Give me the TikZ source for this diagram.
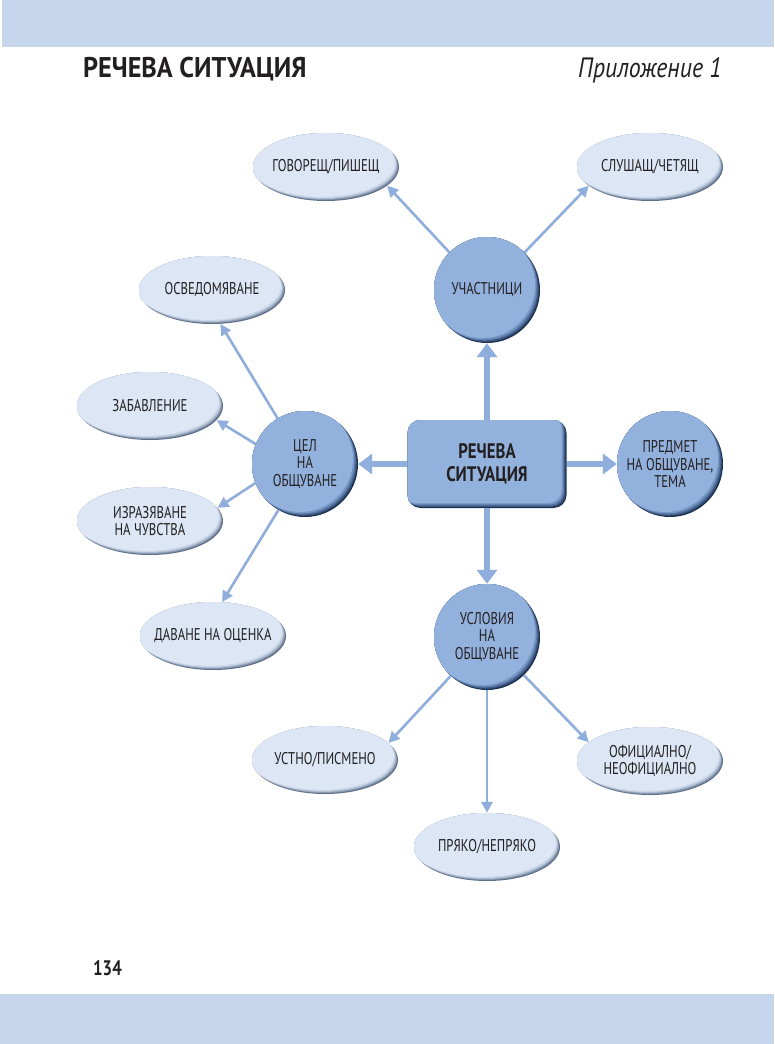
\documentclass[tikz,border=0pt]{standalone}
\usepackage{fontspec}
\newfontfamily\nf[FakeStretch=0.75]{PT Sans}
\newfontfamily\bxf[FakeStretch=0.8]{PT Sans}
\newfontfamily\hdf[FakeStretch=0.92]{PT Sans}
\newfontfamily\itf[FakeStretch=0.85]{PT Sans}
\usetikzlibrary{calc,arrows.meta,shapes.geometric}
\definecolor{band}{HTML}{C6D6EC}
\definecolor{ink}{HTML}{231F20}
\definecolor{arr}{HTML}{8FAEDC}
\definecolor{cmain}{HTML}{93B1DD}
\definecolor{cd0}{HTML}{1E3250}
\definecolor{cd1}{HTML}{3A5680}
\definecolor{cd2}{HTML}{5A78A5}
\definecolor{cd3}{HTML}{7896C4}
\definecolor{emain}{HTML}{DCE6F4}
\definecolor{ed0}{HTML}{5F6F88}
\definecolor{ed1}{HTML}{8898B0}
\definecolor{ed2}{HTML}{AEBCD0}
\definecolor{ed3}{HTML}{CBD7E8}
\tikzset{
  txt/.style={text=ink, align=center, font=\nf\fontsize{17}{17.5}\selectfont},
  circ/.style={circle, minimum size=106pt, inner sep=0pt, fill=cd0, txt,
    path picture={
      \fill[cd1] ($(path picture bounding box.center)+(-1.2pt,1.2pt)$) circle (53pt);
      \fill[cd2] ($(path picture bounding box.center)+(-2.4pt,2.4pt)$) circle (53pt);
      \fill[cd3] ($(path picture bounding box.center)+(-3.6pt,3.6pt)$) circle (53pt);
      \fill[cmain] ($(path picture bounding box.center)+(-5pt,5pt)$) circle (53pt);
    }},
  ell/.style={ellipse, minimum width=146pt, minimum height=68pt, inner xsep=-20pt, inner ysep=0pt, fill=ed0, txt,
    path picture={
      \fill[ed1] ($(path picture bounding box.center)+(-1pt,1pt)$) ellipse [x radius=73pt, y radius=34pt];
      \fill[ed2] ($(path picture bounding box.center)+(-2pt,2pt)$) ellipse [x radius=73pt, y radius=34pt];
      \fill[ed3] ($(path picture bounding box.center)+(-3pt,3pt)$) ellipse [x radius=73pt, y radius=34pt];
      \fill[emain] ($(path picture bounding box.center)+(-4.2pt,4.2pt)$) ellipse [x radius=73pt, y radius=34pt];
    }},
  rbox/.style={rectangle, rounded corners=13pt, minimum width=159pt, minimum height=88pt, inner sep=0pt, fill=cd0,
    text=ink, align=center, font=\bxf\bfseries\fontsize{21}{23}\selectfont,
    path picture={
      \fill[cd1, rounded corners=13pt] ($(path picture bounding box.south west)+(-1.2pt,1.2pt)$) rectangle ($(path picture bounding box.north east)+(-1.2pt,1.2pt)$);
      \fill[cd2, rounded corners=13pt] ($(path picture bounding box.south west)+(-2.4pt,2.4pt)$) rectangle ($(path picture bounding box.north east)+(-2.4pt,2.4pt)$);
      \fill[cd3, rounded corners=13pt] ($(path picture bounding box.south west)+(-3.6pt,3.6pt)$) rectangle ($(path picture bounding box.north east)+(-3.6pt,3.6pt)$);
      \fill[cmain, rounded corners=13pt] ($(path picture bounding box.south west)+(-5pt,5pt)$) rectangle ($(path picture bounding box.north east)+(-5pt,5pt)$);
    }},
  bigarr/.style={draw=arr, line width=6pt, -{Triangle[width=20pt,length=14pt,fill=arr]}},
  smallarr/.style={draw=arr, line width=2.6pt, -{Triangle[width=11pt,length=11pt,fill=arr]}},
}
\begin{document}
\begin{tikzpicture}[x=1pt,y=-1pt]
\useasboundingbox (0,0) rectangle (774,1044);
\fill[white] (0,0) rectangle (774,1044);
% bands
\fill[band] (2,0) rectangle (774,47);
\fill[band] (0,994) rectangle (774,1044);
% header
\node[anchor=base west, inner sep=0pt, text=ink, font=\hdf\bfseries\fontsize{28.5}{28.5}\selectfont] (title) at (83,77) {РЕЧЕВА СИТУАЦИЯ};
\node[anchor=base east, inner sep=0pt, text=ink, font=\itf\itshape\fontsize{28}{28}\selectfont] (app) at (722,77) {Приложение 1};
\node[anchor=base west, inner sep=0pt, text=ink, font=\bxf\bfseries\fontsize{21}{21}\selectfont] (pg) at (93,975) {134};
% main nodes
\node[rbox] (rs) at (487,464) {РЕЧЕВА\\СИТУАЦИЯ};
\node[circ] (uch) at (487,290) {УЧАСТНИЦИ};
\node[circ] (cel) at (305,464) {ЦЕЛ\\НА\\ОБЩУВАНЕ};
\node[circ] (pre) at (670,464) {ПРЕДМЕТ\\НА ОБЩУВАНЕ,\\ТЕМА};
\node[circ] (usl) at (487,637) {УСЛОВИЯ\\НА\\ОБЩУВАНЕ};
% ellipses
\node[ell] (gov) at (326,167) {ГОВОРЕЩ/ПИШЕЩ};
\node[ell] (slu) at (650,167) {СЛУШАЩ/ЧЕТЯЩ};
\node[ell] (osv) at (212,290) {ОСВЕДОМЯВАНЕ};
\node[ell] (zab) at (150,406) {ЗАБАВЛЕНИЕ};
\node[ell] (izr) at (150,521) {ИЗРАЗЯВАНЕ\\НА ЧУВСТВА};
\node[ell] (dav) at (213,636) {ДАВАНЕ НА ОЦЕНКА};
\node[ell] (ust) at (325,760) {УСТНО/ПИСМЕНО};
\node[ell] (ofi) at (650,761) {ОФИЦИАЛНО/\\НЕОФИЦИАЛНО};
\node[ell] (pry) at (487,847) {ПРЯКО/НЕПРЯКО};
% big arrows
\draw[bigarr] (rs.north) -- (uch.south);
\draw[bigarr] (rs.west) -- (cel.east);
\draw[bigarr] (rs.east) -- (pre.west);
\draw[bigarr] (rs.south) -- (usl.north);
% small arrows
\draw[smallarr] (uch.135) -- (gov.-17);
\draw[smallarr] (uch.45) -- (slu.-163);
\draw[smallarr] (cel.121) -- (osv.-76);
\draw[smallarr] (cel.158) -- (zab.-12);
\draw[smallarr] (cel.-159) -- (izr.11);
\draw[smallarr] (cel.240) -- (dav.75);
\draw[smallarr] (usl.227) -- (ust.15);
\draw[smallarr] (usl.south) -- (pry.north);
\draw[smallarr] (usl.-46) -- (ofi.163);
\end{tikzpicture}
\end{document}
